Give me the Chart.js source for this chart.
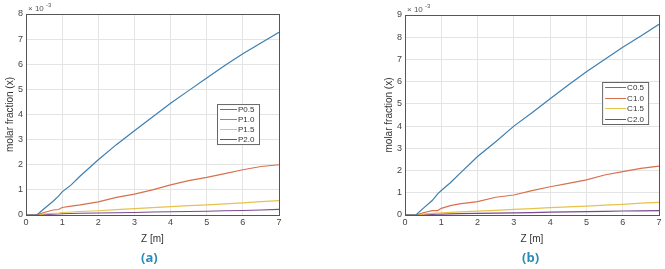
<!DOCTYPE html>
<html>
<head>
<title>Molar fraction vs Z</title>
<script src="https://cdn.jsdelivr.net/npm/chart.js"></script>
<style>
  body { margin: 0; background: #fff; width: 665px; height: 269px; overflow: hidden; position: relative; font-family: "Liberation Sans", Arial, sans-serif; }
  .panel { position: absolute; top: 0; width: 330px; height: 269px; }
  .tag { position: absolute; top: 248px; font: bold 13px "Open Sans", sans-serif; color: #2b8bb8; }
</style>
</head>
<body>
<div class="panel" style="left:0"><canvas id="chartA"></canvas></div>
<div class="panel" style="left:335px"><canvas id="chartB"></canvas></div>
<div class="tag" style="left:141px">(a)</div>
<div class="tag" style="left:522px">(b)</div>

<script>
// values are in units of 1e-3
const zA = [0, 0.3, 0.5, 0.75, 0.9, 1, 1.25, 1.5, 2, 2.5, 3, 3.5, 4, 4.5, 5, 5.5, 6, 6.5, 7];
const P05 = [0, 0, 0.25, 0.55, 0.75, 0.92, 1.2, 1.55, 2.2, 2.8, 3.35, 3.9, 4.45, 4.95, 5.45, 5.95, 6.42, 6.85, 7.27];
const P10 = [0, 0, 0.1, 0.2, 0.22, 0.3, 0.35, 0.4, 0.52, 0.7, 0.83, 1.0, 1.2, 1.37, 1.5, 1.65, 1.8, 1.93, 2.0];
const P15 = [0, 0, 0.04, 0.07, 0.08, 0.1, 0.12, 0.14, 0.17, 0.21, 0.25, 0.29, 0.33, 0.37, 0.4, 0.44, 0.48, 0.53, 0.57];
const P20 = [0, 0, 0.02, 0.03, 0.04, 0.05, 0.06, 0.07, 0.08, 0.09, 0.1, 0.12, 0.13, 0.14, 0.15, 0.17, 0.18, 0.2, 0.22];

const zB = [0, 0.3, 0.5, 0.75, 0.9, 1, 1.25, 1.5, 2, 2.5, 3, 3.5, 4, 4.5, 5, 5.5, 6, 6.5, 7];
const C05 = [0, 0, 0.3, 0.65, 0.95, 1.1, 1.45, 1.85, 2.63, 3.3, 4.0, 4.6, 5.23, 5.85, 6.45, 7.0, 7.55, 8.05, 8.58];
const C10 = [0, 0, 0.1, 0.2, 0.2, 0.3, 0.42, 0.5, 0.6, 0.8, 0.9, 1.1, 1.27, 1.42, 1.58, 1.8, 1.95, 2.1, 2.2];
const C15 = [0, 0, 0.04, 0.07, 0.08, 0.1, 0.12, 0.14, 0.17, 0.21, 0.25, 0.29, 0.33, 0.37, 0.4, 0.44, 0.48, 0.53, 0.57];
const C20 = [0, 0, 0.02, 0.03, 0.035, 0.04, 0.05, 0.06, 0.07, 0.085, 0.1, 0.11, 0.13, 0.14, 0.15, 0.165, 0.18, 0.19, 0.2];

const colors = ['#3d7fb0', '#d8704e', '#e8c24a', '#7a4a8e'];

function makeSets(z, series, labels) {
    return series.map((vals, i) => ({
        label: labels[i],
        data: vals.map((v, k) => ({ x: z[k], y: v })),
        borderColor: colors[i],
        borderWidth: 1.2,
        pointRadius: 0,
        tension: 0
    }));
}

// box around plot area + exponent label + legend inside the plot
const matlabBox = {
    id: 'matlabBox',
    afterDraw(chart, args, opts) {
        const ctx = chart.ctx;
        const a = chart.chartArea;
        ctx.save();
        ctx.strokeStyle = '#555';
        ctx.lineWidth = 1;
        ctx.strokeRect(a.left + 0.5, a.top + 0.5, a.right - a.left, a.bottom - a.top);

        ctx.fillStyle = '#555';
        ctx.font = '8px "Liberation Sans", Arial';
        ctx.textBaseline = 'alphabetic';
        ctx.fillText('\u00d7 10', a.left + 2, a.top - 3);
        ctx.font = '6px "Liberation Sans", Arial';
        ctx.fillText('-3', a.left + 20, a.top - 7);

        // legend
        const x = a.left + opts.fx * (a.right - a.left);
        const y = a.top + opts.fy * (a.bottom - a.top);
        const w = opts.w, h = opts.h;
        ctx.fillStyle = '#fff';
        ctx.fillRect(x, y, w, h);
        ctx.strokeStyle = '#666';
        ctx.strokeRect(x + 0.5, y + 0.5, w, h);
        const rows = chart.data.datasets.length;
        const step = h / rows;
        ctx.font = '8px "Liberation Sans", Arial';
        ctx.textBaseline = 'middle';
        chart.data.datasets.forEach((ds, i) => {
            const cy = Math.round(y + step * (i + 0.5)) + 0.5;
            ctx.strokeStyle = ds.borderColor;
            ctx.beginPath();
            ctx.moveTo(x + 3, cy);
            ctx.lineTo(x + opts.line, cy);
            ctx.stroke();
            ctx.fillStyle = '#333';
            ctx.fillText(ds.label, x + opts.line + 1, cy);
        });
        ctx.restore();
    }
};

function makeChart(id, z, series, labels, yMax, pad, legendPos) {
    const ctx = document.getElementById(id).getContext('2d');
    const tickFont = { family: '"Liberation Sans", Arial', size: 9 };
    new Chart(ctx, {
        type: 'line',
        data: { datasets: makeSets(z, series, labels) },
        options: {
            responsive: true,
            maintainAspectRatio: false,
            animation: false,
            layout: { padding: pad },
            plugins: {
                legend: { display: false },
                tooltip: { enabled: false },
                matlabBox: legendPos
            },
            scales: {
                x: {
                    type: 'linear',
                    min: 0, max: 7,
                    ticks: { stepSize: 1, color: '#444', font: tickFont, padding: 2 },
                    grid: { color: '#e4e4e4', drawTicks: false },
                    border: { display: false },
                    title: { display: true, text: 'Z [m]', color: '#333', font: { family: '"Liberation Sans", Arial', size: 10 }, padding: 0 },
                    afterFit(s) { s.height = 30; }
                },
                y: {
                    min: 0, max: yMax,
                    ticks: { stepSize: 1, color: '#444', font: tickFont, padding: 3 },
                    grid: { color: '#e4e4e4', drawTicks: false },
                    border: { display: false },
                    title: { display: true, text: 'molar fraction (x)', color: '#333', font: { family: '"Liberation Sans", Arial', size: 10 }, padding: 0 },
                    afterFit(s) { s.width = 22; }
                }
            }
        },
        plugins: [matlabBox]
    });
}

makeChart('chartA', zA, [P05, P10, P15, P20], ['P0.5', 'P1.0', 'P1.5', 'P2.0'], 8,
    { left: 4, right: 51, top: 14, bottom: 24 },
    { fx: 0.755, fy: 0.448, w: 42, h: 40, line: 20 });

makeChart('chartB', zB, [C05, C10, C15, C20], ['C0.5', 'C1.0', 'C1.5', 'C2.0'], 9,
    { left: 48, right: 6, top: 15, bottom: 24 },
    { fx: 0.776, fy: 0.335, w: 46, h: 42, line: 24 });
</script>
</body>
</html>
